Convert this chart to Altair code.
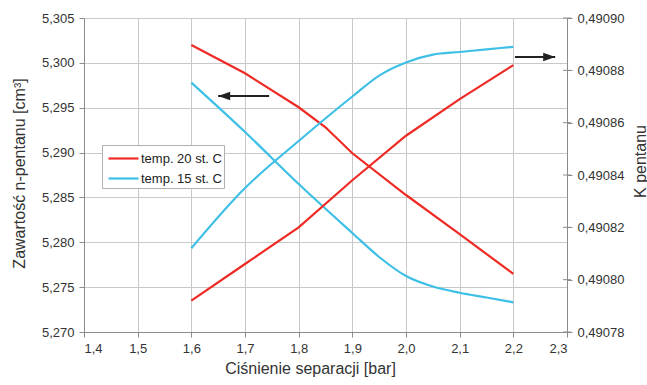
import altair as alt
import pandas as pd

# Separation pressure [bar] and measured series
pressure_a = [1.6, 1.7, 1.8, 1.85, 1.9, 2.0, 2.1, 2.2]
content_20 = [5.30199, 5.29884, 5.29505, 5.29282, 5.28992, 5.28527, 5.28092, 5.27647]

pressure_b = [1.6, 1.7, 1.8, 1.9, 1.95, 2.0, 2.05, 2.1, 2.15, 2.2]
content_15 = [5.29779, 5.29229, 5.28650, 5.28104, 5.27836, 5.27624, 5.27507, 5.27438, 5.27385, 5.27331]
k_15 = [0.490812, 0.490835, 0.490853, 0.490870, 0.490878, 0.490883, 0.490886, 0.490887, 0.490888, 0.490889]

pressure_c = [1.6, 1.7, 1.8, 1.9, 2.0, 2.1, 2.2]
k_20 = [0.490792, 0.490806, 0.490820, 0.490838, 0.490855, 0.490869, 0.490882]

series_names = ["temp. 20 st. C", "temp. 15 st. C"]
series_colors = ["#ee2a24", "#3ec0e6"]

x_ticks = [1.4, 1.5, 1.6, 1.7, 1.8, 1.9, 2.0, 2.1, 2.2, 2.3]
left_ticks = [5.270, 5.275, 5.280, 5.285, 5.290, 5.295, 5.300, 5.305]
right_ticks = [0.49078, 0.49080, 0.49082, 0.49084, 0.49086, 0.49088, 0.49090]

# Arrows pointing to the axis each pair of curves belongs to
arrow_tail = [1.745, 2.203]
arrow_tip = [1.65, 2.278]
arrow_level = [5.2963, 5.30065]

FONT = "Liberation Sans"
X_MAX = x_ticks[-1]

red_left = pd.DataFrame({"p": pressure_a, "v": content_20, "s": series_names[0]})
blue_left = pd.DataFrame({"p": pressure_b, "v": content_15, "s": series_names[1]})
red_right = pd.DataFrame({"p": pressure_c, "v": k_20, "s": series_names[0]})
blue_right = pd.DataFrame({"p": pressure_b, "v": k_15, "s": series_names[1]})
arrow_df = pd.DataFrame({"tail": arrow_tail, "tip": arrow_tip, "lvl": arrow_level,
                         "dir": ["left", "right"]})
rtick_df = pd.DataFrame({"p": [X_MAX] * len(right_ticks), "v": right_ticks})

x_scale = alt.Scale(domain=[1.4, 2.3], nice=False, zero=False)
left_scale = alt.Scale(domain=[5.270, 5.305], nice=False, zero=False)
right_scale = alt.Scale(domain=[0.49078, 0.49090], nice=False, zero=False)
color_scale = alt.Scale(domain=series_names, range=series_colors)

x_enc = alt.X("p:Q", scale=x_scale, axis=alt.Axis(
    values=x_ticks,
    labelExpr="replace(format(datum.value, '.1f'), '.', ',')",
    title="Ciśnienie separacji [bar]",
    grid=True,
    titleX=226, titleY=36, titleAlign="center", titleBaseline="middle",
))

color_enc = alt.Color("s:N", scale=color_scale, sort=series_names, legend=alt.Legend(
    title=None, orient="none", legendX=18, legendY=127,
    symbolType="M-1.5,0 L1.5,0", symbolSize=400, symbolStrokeWidth=2.2, symbolOffset=8,
    labelFontSize=13, labelFont=FONT, labelColor="#222", labelOffset=6,
    fillColor="white", strokeColor="#b0b0b0", padding=2, rowPadding=1,
))

left_y = alt.Y("v:Q", scale=left_scale, axis=alt.Axis(
    values=left_ticks, orient="left", grid=True,
    labelExpr="replace(format(datum.value, '.3f'), '.', ',')",
    title="Zawartość n-pentanu [cm³]",
    titleX=-65, titleY=155, titleAlign="center", titleBaseline="middle", titleAngle=270,
))
right_y = alt.Y("v:Q", scale=right_scale, axis=alt.Axis(
    values=right_ticks, orient="right", grid=False,
    labelExpr="replace(format(datum.value, '.5f'), '.', ',')",
    title="K pentanu",
    titleX=73, titleY=143, titleAlign="center", titleBaseline="middle", titleAngle=270,
))

left_red = alt.Chart(red_left).mark_line(strokeWidth=2.2).encode(
    x=x_enc, y=left_y, color=color_enc)
left_blue = alt.Chart(blue_left).mark_line(strokeWidth=2.2, interpolate="monotone").encode(
    x=x_enc, y=left_y, color=color_enc)

arrow_lines = alt.Chart(arrow_df).mark_rule(strokeWidth=2, color="#222").encode(
    x=alt.X("tail:Q", scale=x_scale),
    x2="tip:Q",
    y=alt.Y("lvl:Q", scale=left_scale),
)
head_left = alt.Chart(arrow_df).transform_filter("datum.dir == 'left'").mark_point(
    shape="M0,0 L2,-0.7 L2,0.7 Z", filled=True, size=144, color="#222", opacity=1
).encode(x=alt.X("tip:Q", scale=x_scale), y=alt.Y("lvl:Q", scale=left_scale))
head_right = alt.Chart(arrow_df).transform_filter("datum.dir == 'right'").mark_point(
    shape="M0,0 L-2,-0.7 L-2,0.7 Z", filled=True, size=144, color="#222", opacity=1
).encode(x=alt.X("tip:Q", scale=x_scale), y=alt.Y("lvl:Q", scale=left_scale))

left_layer = alt.layer(left_red, left_blue, arrow_lines, head_left, head_right)

right_red = alt.Chart(red_right).mark_line(strokeWidth=2.2).encode(
    x=x_enc, y=right_y, color=color_enc)
right_blue = alt.Chart(blue_right).mark_line(strokeWidth=2.2, interpolate="monotone").encode(
    x=x_enc, y=right_y, color=color_enc)
# inner half of the right-axis tick marks (they cross the axis line)
right_inner_ticks = alt.Chart(rtick_df).mark_tick(
    orient="horizontal", size=8, thickness=1, color="#8c8c8c", opacity=1
).encode(x=alt.X("p:Q", scale=x_scale), y=alt.Y("v:Q", scale=right_scale))
right_layer = alt.layer(right_red, right_blue, right_inner_ticks)

chart = alt.layer(left_layer, right_layer).resolve_scale(y="independent").properties(
    width=483, height=314,
    padding={"left": 84, "top": 18, "right": 80, "bottom": 53},
    autosize=alt.AutoSizeParams(type="none"),
    background="white",
).configure_view(strokeWidth=0).configure_axis(
    labelFont=FONT, titleFont=FONT,
    labelFontSize=13, titleFontSize=16, titleFontWeight="normal",
    labelColor="#333", titleColor="#333",
    domainColor="#8c8c8c", tickColor="#8c8c8c", gridColor="#c8c8c8",
    tickSize=5, labelPadding=5,
)

chart.save("out.html", embed_options={"renderer": "svg", "actions": False})
